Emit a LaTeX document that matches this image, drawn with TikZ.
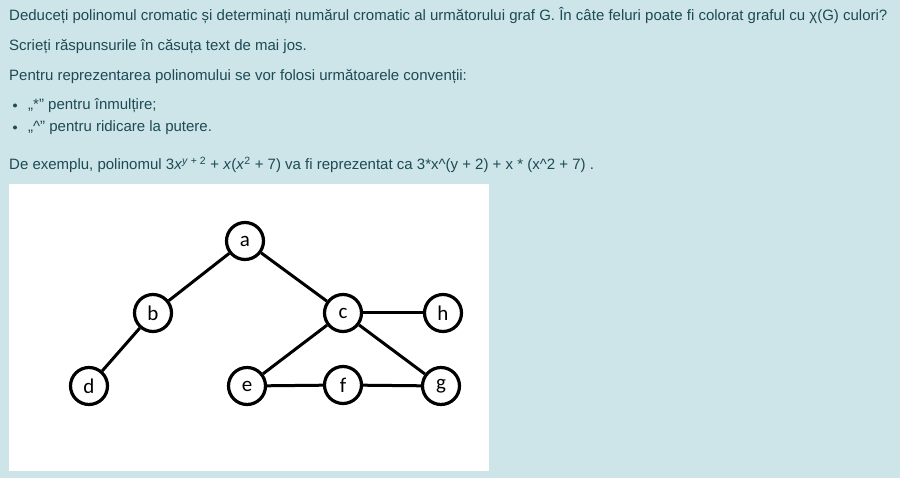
\documentclass[tikz,border=0pt]{standalone}
\usepackage{fontspec}
\setmainfont{Liberation Sans}
\newfontfamily\nodefont{Carlito}
\usepackage{xcolor}
\usetikzlibrary{positioning}
\definecolor{pagebg}{HTML}{CDE5E9}
\definecolor{pagetext}{HTML}{1D4A55}

\begin{document}
\begin{tikzpicture}
[x=1pt,y=-1pt,
main node/.style={circle, draw, line width=3.2pt, fill=white, minimum size=37pt, inner sep=0pt, font=\nodefont\fontsize{21}{21}\selectfont},
text line/.style={anchor=base west, inner sep=0pt, text=pagetext, font=\fontsize{15}{17}\selectfont},
bullet/.style={circle, fill=pagetext, inner sep=0pt, minimum size=4pt}]

  \fill[pagebg] (0,0) rectangle (900,478);
  \useasboundingbox (0,0) rectangle (900,478);

  % question text
  \node[text line] (q1) at (9,21) {Deduceți polinomul cromatic și determinați numărul cromatic al următorului graf G. În câte feluri poate fi colorat graful cu χ(G) culori?};
  \node[text line] (q2) at (9,51) {Scrieți răspunsurile în căsuța text de mai jos.};
  \node[text line] (q3) at (9,81) {Pentru reprezentarea polinomului se vor folosi următoarele convenții:};
  \node[bullet] (d1) at (15,105.5) {};
  \node[text line] (b1) at (28,110) {„*” pentru înmulțire;};
  \node[bullet] (d2) at (15,127.5) {};
  \node[text line] (b2) at (28,132) {„\^{}” pentru ridicare la putere.};
  \node[text line] (ex) at (9,170) {De exemplu, polinomul 3\textit{x}\textsuperscript{\textit{y} + 2} + \textit{x}(\textit{x}\textsuperscript{2} + 7) va fi reprezentat ca 3*x\^{}(y + 2) + x * (x\^{}2 + 7) .};

  % graph panel
  \fill[white] (9,184) rectangle (489,471);

  \node[main node] (a) at (245,241) {a};
  \node[main node] (b) at (153,313) {b};
  \node[main node] (c) at (343,313) {c};
  \node[main node] (h) at (443,313) {h};
  \node[main node] (d) at (89,386) {d};
  \node[main node] (e) at (247,386) {e};
  \node[main node] (f) at (343,385) {f};
  \node[main node] (g) at (441,386) {g};

  \path[line width=3pt]
    (a) edge (b)
    (a) edge (c)
    (b) edge (d)
    (c) edge (h)
    (c) edge (e)
    (c) edge (g)
    (e) edge (f)
    (f) edge (g);

\end{tikzpicture}
\end{document}
